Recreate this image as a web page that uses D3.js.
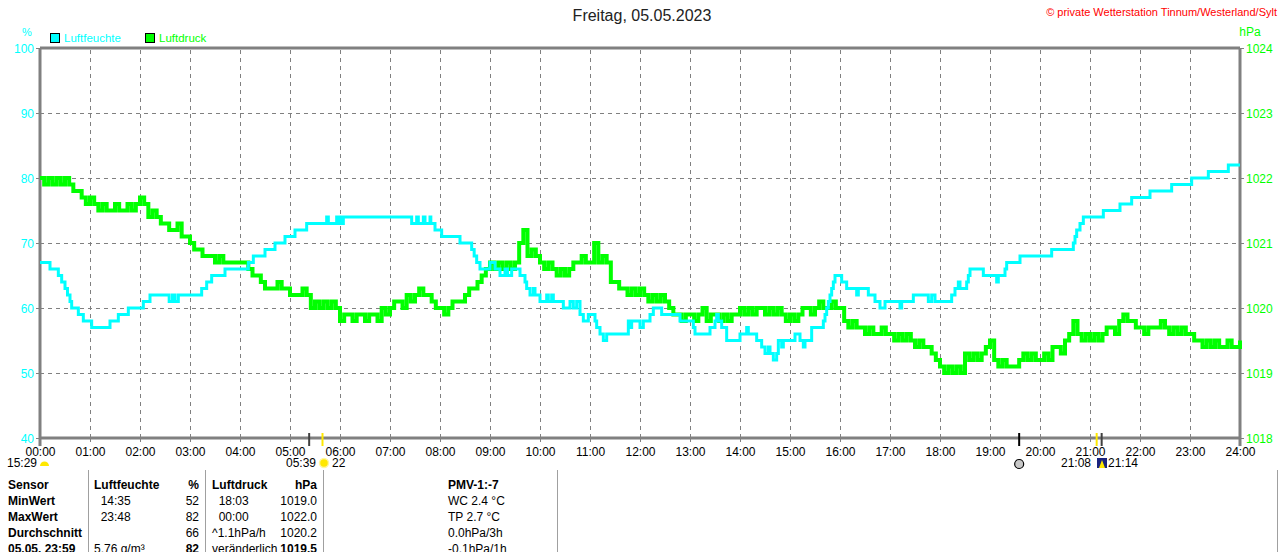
<!DOCTYPE html>
<html>
<head>
<meta charset="utf-8">
<script src="https://cdn.jsdelivr.net/npm/d3@7"></script>
<style>
  body { margin: 0; background: #fff; }
  svg { display: block; font-family: "Liberation Sans", Arial, sans-serif; }
  .grid { stroke: #808080; stroke-width: 1; stroke-dasharray: 4,4; }
</style>
</head>
<body>
<svg id="chart" width="1280" height="552"></svg>
<script>
// humidity (%), step changes: time -> value
const humTimes = ["00:00","00:12","00:22","00:26","00:30","00:33","00:36","00:38","00:46","00:52",
  "01:02","01:24","01:34","01:46","02:04","02:12","02:35","02:39","02:42","02:46",
  "03:14","03:20","03:26","03:42","04:10","04:16","04:30","04:42","04:54","05:06",
  "05:20","05:44","05:46","05:56","05:58","06:00","06:02","06:04","07:26","07:32",
  "07:34","07:40","07:42","07:48","07:49","07:54","08:02","08:24","08:38","08:41",
  "08:44","08:48","09:00","09:06","09:12","09:18","09:21","09:26","09:36","09:42",
  "09:44","09:48","09:52","09:54","10:00","10:08","10:10","10:14","10:16","10:28",
  "10:36","10:40","10:44","10:48","10:52","10:58","11:06","11:08","11:12","11:16",
  "11:20","11:46","11:48","11:50","12:00","12:04","12:12","12:16","12:26","12:48",
  "13:04","13:06","13:24","13:30","13:32","13:34","13:38","13:44","14:00","14:08",
  "14:10","14:20","14:26","14:30","14:34","14:36","14:40","14:44","14:46","14:50",
  "14:52","15:06","15:12","15:16","15:18","15:26","15:40","15:42","15:44","15:46",
  "15:48","15:50","15:52","15:54","16:02","16:08","16:20","16:22","16:34","16:42",
  "16:48","16:54","17:12","17:14","17:28","17:46","17:50","17:54","18:14","18:18",
  "18:22","18:24","18:32","18:34","18:36","18:52","19:08","19:10","19:18","19:20",
  "19:36","20:14","20:40","20:42","20:44","20:48","20:52","21:16","21:36","21:50",
  "22:12","22:38","23:02","23:22","23:46","24:00"];
const humValues = [67,66,65,64,63,62,61,60,59,58,
  57,58,59,60,61,62,61,62,61,62,
  63,64,65,66,67,68,69,70,71,72,
  73,74,73,74,73,74,73,74,73,74,
  73,74,73,74,73,72,71,70,69,68,
  67,66,67,66,65,66,65,66,65,64,
  63,62,63,62,61,62,61,62,61,60,
  61,60,61,59,58,59,58,57,56,55,
  56,58,57,58,57,58,59,60,59,58,
  57,56,57,58,59,58,57,55,56,57,
  56,55,54,53,54,53,52,53,55,54,
  55,56,55,54,55,57,58,59,60,61,
  62,63,64,65,64,63,62,63,62,61,
  60,61,60,61,62,61,62,61,62,63,
  64,63,64,65,66,65,64,65,66,67,
  68,69,70,71,72,73,74,75,76,77,
  78,79,80,81,82,82];

// pressure (hPa), every 5 minutes from 00:00 to 24:00
const pressStep = 5;
const pressValues = [
  1022.0,1021.9,1022.0,1021.9,1022.0,1021.9,1022.0,1021.9,1021.8,1021.8,1021.7,1021.6,
  1021.7,1021.6,1021.5,1021.6,1021.5,1021.5,1021.6,1021.5,1021.5,1021.6,1021.5,1021.6,
  1021.7,1021.6,1021.4,1021.5,1021.4,1021.3,1021.3,1021.2,1021.2,1021.3,1021.1,1021.1,
  1021.0,1020.9,1020.9,1020.8,1020.8,1020.8,1020.7,1020.8,1020.7,1020.7,1020.7,1020.7,
  1020.7,1020.7,1020.6,1020.5,1020.5,1020.4,1020.3,1020.3,1020.3,1020.4,1020.3,1020.3,
  1020.2,1020.2,1020.2,1020.3,1020.2,1020.0,1020.1,1020.0,1020.1,1020.0,1020.1,1020.0,
  1019.8,1019.9,1019.9,1019.8,1019.9,1019.9,1019.8,1019.9,1019.9,1019.8,1020.0,1019.9,
  1020.0,1020.1,1020.1,1020.0,1020.2,1020.1,1020.2,1020.3,1020.2,1020.2,1020.1,1020.0,
  1020.0,1019.9,1020.0,1020.1,1020.1,1020.1,1020.2,1020.3,1020.3,1020.4,1020.5,1020.6,
  1020.7,1020.6,1020.7,1020.6,1020.7,1020.6,1020.7,1021.0,1021.2,1020.8,1020.9,1020.8,
  1020.7,1020.6,1020.7,1020.6,1020.5,1020.6,1020.5,1020.6,1020.7,1020.7,1020.8,1020.7,
  1020.7,1021.0,1020.7,1020.8,1020.7,1020.4,1020.4,1020.3,1020.3,1020.2,1020.3,1020.2,
  1020.3,1020.2,1020.1,1020.2,1020.1,1020.2,1020.1,1020.0,1019.9,1019.9,1019.8,1019.9,
  1019.9,1019.8,1019.9,1020.0,1019.8,1019.9,1019.9,1019.8,1019.9,1019.8,1019.9,1019.9,
  1020.0,1019.9,1020.0,1019.9,1020.0,1020.0,1019.9,1020.0,1019.9,1020.0,1019.9,1019.8,
  1019.9,1019.8,1019.9,1020.0,1020.0,1019.9,1020.0,1020.1,1020.0,1020.0,1020.1,1020.0,
  1020.0,1019.8,1019.7,1019.8,1019.7,1019.7,1019.6,1019.7,1019.6,1019.6,1019.7,1019.6,
  1019.6,1019.5,1019.6,1019.5,1019.6,1019.5,1019.4,1019.5,1019.4,1019.4,1019.3,1019.2,
  1019.1,1019.0,1019.1,1019.0,1019.1,1019.0,1019.3,1019.2,1019.3,1019.2,1019.3,1019.4,
  1019.5,1019.2,1019.1,1019.2,1019.1,1019.1,1019.1,1019.2,1019.3,1019.2,1019.3,1019.2,
  1019.2,1019.3,1019.2,1019.4,1019.4,1019.3,1019.5,1019.6,1019.8,1019.6,1019.5,1019.6,
  1019.5,1019.6,1019.5,1019.6,1019.7,1019.7,1019.6,1019.8,1019.9,1019.8,1019.8,1019.7,
  1019.7,1019.6,1019.7,1019.7,1019.7,1019.8,1019.7,1019.6,1019.7,1019.6,1019.7,1019.6,
  1019.6,1019.5,1019.5,1019.4,1019.5,1019.4,1019.5,1019.4,1019.4,1019.5,1019.4,1019.4,
  1019.5];

const hourLabels = d3.range(0, 25).map(h => String(h).padStart(2, "0") + ":00");
const humTicks = [40, 50, 60, 70, 80, 90, 100];
const pressTicks = [1018, 1019, 1020, 1021, 1022, 1023, 1024];

// sun / moon events on the time axis
const eventTimes = ["05:23", "05:39", "19:35", "21:08", "21:14"];
const eventColors = ["#404040", "#ffe800", "#000000", "#ffe800", "#404040"];

// table below the chart
const tableRows = [
  ["Sensor", "Luftfeuchte", "%", "Luftdruck", "hPa", "PMV-1:-7"],
  ["MinWert", "  14:35", "52", "  18:03", "1019.0", "WC 2.4 °C"],
  ["MaxWert", "  23:48", "82", "  00:00", "1022.0", "TP 2.7 °C"],
  ["Durchschnitt", "", "66", "^1.1hPa/h", "1020.2", "0.0hPa/3h"],
  ["05.05. 23:59", "5.76 g/m³", "82", "veränderlich", "1019.5", "-0.1hPa/1h"]
];

const toMin = s => { const [h, m] = s.split(":").map(Number); return h * 60 + m; };

const svg = d3.select("#chart");
const plotL = 40, plotR = 1240, plotT = 48, plotB = 438;

const x = d3.scaleLinear().domain([0, 1440]).range([plotL, plotR]);
const yHum = d3.scaleLinear().domain([40, 100]).range([plotB, plotT]);
const yPress = d3.scaleLinear().domain([1018, 1024]).range([plotB, plotT]);

const CYAN = "#00ffff", GREEN = "#00ff00", GRAY = "#808080";

// title + header texts
svg.append("text").attr("x", 642).attr("y", 21).attr("text-anchor", "middle")
    .attr("font-size", 16).attr("fill", "#222").text("Freitag, 05.05.2023");
svg.append("text").attr("x", 1277).attr("y", 16).attr("text-anchor", "end")
    .attr("font-size", 11).attr("fill", "#ff0000").text("© private Wetterstation Tinnum/Westerland/Sylt");
svg.append("text").attr("x", 27).attr("y", 36).attr("text-anchor", "middle")
    .attr("font-size", 11).attr("fill", CYAN).text("%");
svg.append("text").attr("x", 1250).attr("y", 36).attr("text-anchor", "middle")
    .attr("font-size", 12).attr("fill", GREEN).text("hPa");

// legend
const legend = [["Luftfeuchte", CYAN, 50], ["Luftdruck", GREEN, 145]];
legend.forEach(([name, col, lx]) => {
    svg.append("rect").attr("x", lx + 0.5).attr("y", 33.5).attr("width", 9).attr("height", 9)
        .attr("fill", col).attr("stroke", "#000");
    svg.append("text").attr("x", lx + 14).attr("y", 42).attr("font-size", 11.5)
        .attr("fill", col).text(name);
});

// grid
const g = svg.append("g");
g.selectAll(".vgrid").data(d3.range(60, 1440, 60)).enter().append("line")
    .attr("class", "grid")
    .attr("x1", d => x(d) + 0.5).attr("x2", d => x(d) + 0.5)
    .attr("y1", plotT + 2).attr("y2", plotB);
g.selectAll(".hgrid").data(humTicks.slice(1, -1)).enter().append("line")
    .attr("class", "grid")
    .attr("x1", plotL).attr("x2", plotR)
    .attr("y1", d => yHum(d) + 0.5).attr("y2", d => yHum(d) + 0.5);

// axes
const xAxis = svg.append("g").attr("transform", `translate(0,${plotB})`)
    .call(d3.axisBottom(x).tickValues(d3.range(0, 1441, 60)).tickSize(4)
        .tickFormat((d, i) => hourLabels[i]));
const yAxisL = svg.append("g").attr("transform", `translate(${plotL},0)`)
    .call(d3.axisLeft(yHum).tickValues(humTicks).tickSize(4).tickPadding(2));
const yAxisR = svg.append("g").attr("transform", `translate(${plotR},0)`)
    .call(d3.axisRight(yPress).tickValues(pressTicks).tickFormat(d3.format("d"))
        .tickSize(4).tickPadding(2));

[xAxis, yAxisL, yAxisR].forEach(a => {
    a.select(".domain").remove();
    a.selectAll(".tick line").attr("stroke", GRAY);
    a.selectAll("text").attr("font-family", "Liberation Sans, Arial, sans-serif").attr("font-size", 12);
});
xAxis.selectAll("text").attr("fill", "#000").attr("dy", "0.9em");
yAxisL.selectAll("text").attr("fill", CYAN).attr("dy", "0.35em");
yAxisR.selectAll("text").attr("fill", GREEN).attr("dy", "0.35em");

// frame
svg.append("line").attr("x1", plotL).attr("x2", plotR).attr("y1", plotT).attr("y2", plotT)
    .attr("stroke", GRAY).attr("stroke-width", 3);
svg.append("line").attr("x1", plotL).attr("x2", plotR).attr("y1", plotB).attr("y2", plotB)
    .attr("stroke", GRAY).attr("stroke-width", 3);
svg.append("line").attr("x1", plotL).attr("x2", plotL).attr("y1", plotT).attr("y2", plotB + 8)
    .attr("stroke", GRAY).attr("stroke-width", 3);
svg.append("line").attr("x1", plotR).attr("x2", plotR).attr("y1", plotT).attr("y2", plotB + 8)
    .attr("stroke", GRAY).attr("stroke-width", 3);

// event markers
eventTimes.forEach((t, i) => {
    svg.append("line").attr("x1", x(toMin(t))).attr("x2", x(toMin(t)))
        .attr("y1", plotB - 5).attr("y2", plotB + 8)
        .attr("stroke", eventColors[i]).attr("stroke-width", 2);
});

// series
const pressData = pressValues.map((v, i) => ({ t: i * pressStep, v }));
const humData = humTimes.map((t, i) => ({ t: toMin(t), v: humValues[i] }));

svg.append("path").datum(pressData)
    .attr("fill", "none").attr("stroke", GREEN).attr("stroke-width", 4)
    .attr("d", d3.line().x(d => x(d.t)).y(d => yPress(d.v)).curve(d3.curveStepAfter));
svg.append("path").datum(humData)
    .attr("fill", "none").attr("stroke", CYAN).attr("stroke-width", 3)
    .attr("d", d3.line().x(d => x(d.t)).y(d => yHum(d.v)).curve(d3.curveStepAfter));

// second row below axis: sun / moon times and icons
const row2 = 467;
const small = (tx, ty, s, anchor) => svg.append("text").attr("x", tx).attr("y", ty)
    .attr("font-size", 12).attr("text-anchor", anchor || "start").attr("fill", "#000").text(s);
small(37, row2, "15:29", "end");
svg.append("path").attr("d", "M40,466 A4.5,4.5 0 0 1 49,466 Z").attr("fill", "#ffe800");
small(316, row2, "05:39", "end");
svg.append("circle").attr("cx", 324).attr("cy", 463).attr("r", 4.5).attr("fill", "#ffe800")
    .attr("stroke", "#fff6a0").attr("stroke-width", 1.5);
small(332, row2, "22");
svg.append("circle").attr("cx", x(toMin("19:35"))).attr("cy", 464).attr("r", 4.5)
    .attr("fill", "#c8c8c8").attr("stroke", "#000").attr("stroke-width", 1.2);
small(1091, row2, "21:08", "end");
svg.append("rect").attr("x", 1097).attr("y", 458).attr("width", 10).attr("height", 10).attr("fill", "#1a237e");
svg.append("path").attr("d", "M1102,460 L1105,468 L1099,468 Z").attr("fill", "#ffe800");
small(1108, row2, "21:14");

// table
const colX = [8, 94, 199, 212, 317, 448];
const colAnchor = ["start", "start", "end", "start", "end", "start"];
const rowY = [489, 505, 521, 537, 553];
[88, 205, 323, 557, 1277].forEach(lx => {
    svg.append("line").attr("x1", lx + 0.5).attr("x2", lx + 0.5).attr("y1", 470).attr("y2", 552)
        .attr("stroke", "#a0a0a0");
});
tableRows.forEach((row, r) => {
    row.forEach((cell, c) => {
        const bold = r === 0 || c === 0 || (r === 4 && (c === 2 || c === 4));
        svg.append("text").attr("x", colX[c]).attr("y", rowY[r])
            .attr("text-anchor", colAnchor[c]).attr("font-size", 12)
            .attr("font-weight", bold ? "bold" : "normal")
            .attr("fill", "#000").attr("xml:space", "preserve")
            .style("white-space", "pre").text(cell);
    });
});
</script>
</body>
</html>
